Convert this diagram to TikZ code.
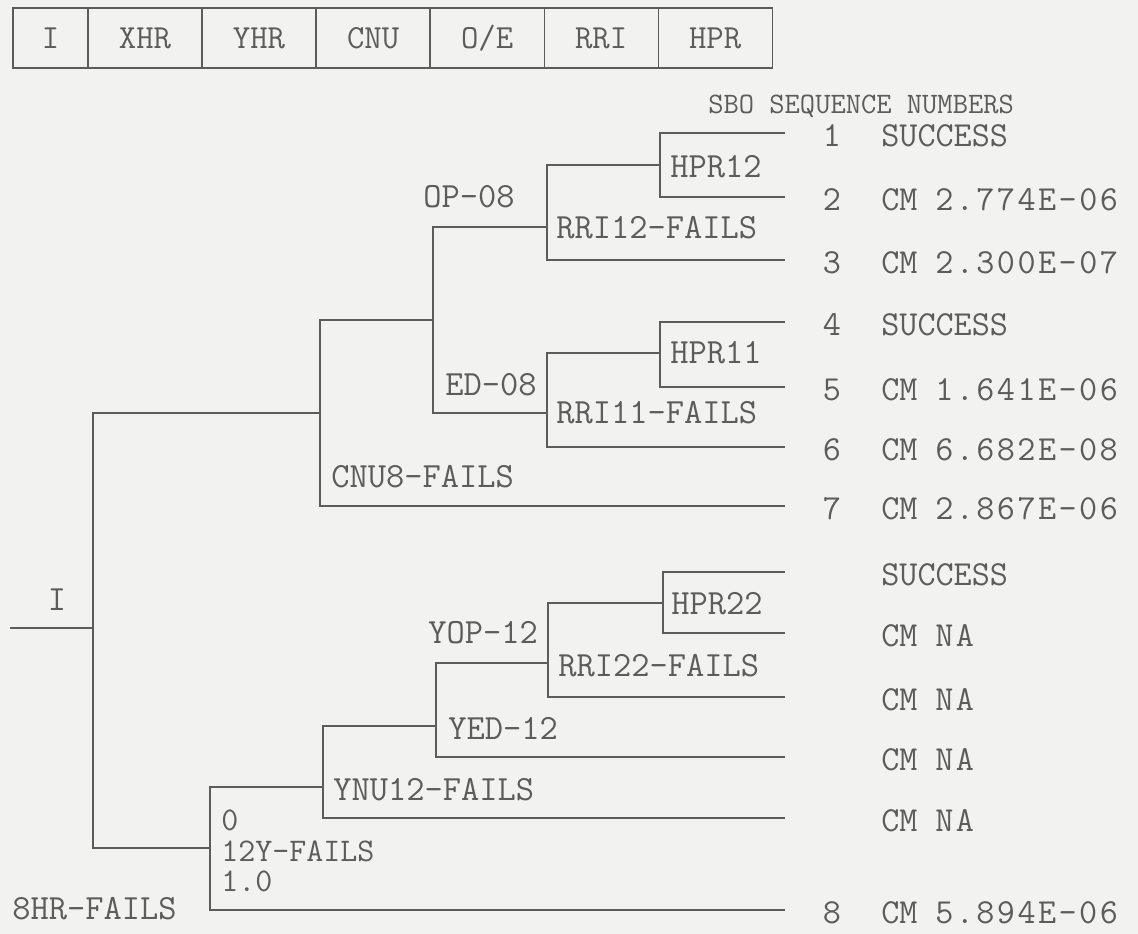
\documentclass[tikz,border=0pt]{standalone}
\usepackage{fontspec}
\newfontfamily\valfont[LetterSpace=7]{Latin Modern Mono}
\usetikzlibrary{positioning, calc}
\definecolor{ink}{HTML}{5C5C5C}
\definecolor{paper}{HTML}{F2F2F0}

\begin{document}
\begin{tikzpicture}[
    x=0.025cm, y=-0.025cm,
    hdr/.style={draw=ink, line width=0.9pt, rectangle, outer sep=0pt, minimum width=2.85cm, minimum height=1.5cm, font=\ttfamily\fontsize{24}{28}\selectfont, text=ink},
    lbl/.style={anchor=west, inner sep=0pt, font=\ttfamily\fontsize{25.2}{30}\selectfont, text=ink},
    seqtxt/.style={anchor=west, inner sep=0pt, font=\ttfamily\fontsize{25}{30}\selectfont, text=ink},
    tree/.style={draw=ink, line width=0.9pt}
]

\fill[paper] (0,0) rectangle (1138,934);
\useasboundingbox (0,0) rectangle (1138,934);

% Header of event columns
\node[hdr, minimum width=1.875cm] (hI) at (50.5,38) {I};
\node[hdr, right=0pt of hI] (hXHR) {XHR};
\node[hdr, right=0pt of hXHR] (hYHR) {YHR};
\node[hdr, right=0pt of hYHR] (hCNU) {CNU};
\node[hdr, right=0pt of hCNU] (hOE) {O/E};
\node[hdr, right=0pt of hOE] (hRRI) {RRI};
\node[hdr, right=0pt of hRRI] (hHPR) {HPR};

\node[lbl, font=\ttfamily\fontsize{21.1}{25}\selectfont] (sbo) at (708,106) {SBO SEQUENCE NUMBERS};

% Branch points
\coordinate (init) at (10,628);
\coordinate (brI) at (93,628);
\coordinate (brC) at (320,413);
\coordinate (brO) at (433,320);
\coordinate (brR12) at (547,227);
\coordinate (brH12) at (660,165);
\coordinate (brR11) at (547,413);
\coordinate (brH11) at (660,353);
\coordinate (brY) at (210,848);
\coordinate (brYN) at (323,787);
\coordinate (brYO) at (436,726);
\coordinate (brR22) at (548,663);
\coordinate (brH22) at (663,603);

% Sequence end points and outcomes
\foreach \i/\ly/\num/\res/\val in {
    1/133/1/SUCCESS/{}, 2/197/2/CM/2.774E-06, 3/260/3/CM/2.300E-07,
    4/322/4/SUCCESS/{}, 5/387/5/CM/1.641E-06, 6/447/6/CM/6.682E-08,
    7/506/7/CM/2.867E-06, 8/572/{}/SUCCESS/{}, 9/633/{}/CM/NA,
    10/697/{}/CM/NA, 11/757/{}/CM/NA, 12/818/{}/CM/NA, 13/910/8/CM/5.894E-06}{
    \coordinate (end\i) at (785,\ly);
    \node[seqtxt, anchor=center] (num\i) at ($(end\i)+(47,3)$) {\num};
    \node[seqtxt] (res\i) at ($(end\i)+(96,3)$) {\res};
    \node[seqtxt, font=\valfont\fontsize{25}{30}\selectfont] (val\i) at ($(end\i)+(150,3)$) {\val};
}

% Branch labels
\node[lbl, anchor=center] (lI) at (57,600) {I};
\node[lbl] (lCNU8) at (331,477) {CNU8-FAILS};
\node[lbl] (lOP08) at (423,197) {OP-08};
\node[lbl] (lED08) at (445,385) {ED-08};
\node[lbl] (lHPR12) at (670,167) {HPR12};
\node[lbl] (lRRI12) at (556,228) {RRI12-FAILS};
\node[lbl] (lHPR11) at (670,353) {HPR11};
\node[lbl] (lRRI11) at (556,413) {RRI11-FAILS};
\node[lbl] (lYOP12) at (428,633) {YOP-12};
\node[lbl] (lRRI22) at (558,666) {RRI22-FAILS};
\node[lbl] (lHPR22) at (671,604) {HPR22};
\node[lbl] (lYED12) at (448,728) {YED-12};
\node[lbl] (lYNU12) at (333,790) {YNU12-FAILS};
\node[lbl, font=\ttfamily\fontsize{23.5}{26}\selectfont] (l12Ya) at (221,820) {0};
\node[lbl, font=\ttfamily\fontsize{23.5}{26}\selectfont] (l12Y) at (221,851) {12Y-FAILS};
\node[lbl, font=\ttfamily\fontsize{23.5}{26}\selectfont] (l12Yb) at (221,881) {1.0};
\node[lbl] (l8HR) at (12,909) {8HR-FAILS};

% Edges
\draw[tree] (init) -- (brI);
\draw[tree] (brI) |- (brC);
\draw[tree] (brI) |- (brY);
\draw[tree] (brC) |- (brO);
\draw[tree] (brC) |- (end7);
\draw[tree] (brO) |- (brR12);
\draw[tree] (brO) |- (brR11);
\draw[tree] (brR12) |- (brH12);
\draw[tree] (brR12) |- (end3);
\draw[tree] (brH12) |- (end1);
\draw[tree] (brH12) |- (end2);
\draw[tree] (brR11) |- (brH11);
\draw[tree] (brR11) |- (end6);
\draw[tree] (brH11) |- (end4);
\draw[tree] (brH11) |- (end5);
\draw[tree] (brY) |- (brYN);
\draw[tree] (brY) |- (end13);
\draw[tree] (brYN) |- (brYO);
\draw[tree] (brYN) |- (end12);
\draw[tree] (brYO) |- (brR22);
\draw[tree] (brYO) |- (end11);
\draw[tree] (brR22) |- (brH22);
\draw[tree] (brR22) |- (end10);
\draw[tree] (brH22) |- (end8);
\draw[tree] (brH22) |- (end9);

\end{tikzpicture}
\end{document}
